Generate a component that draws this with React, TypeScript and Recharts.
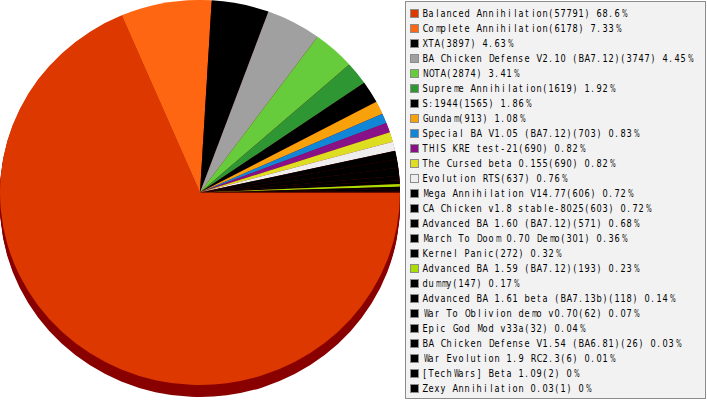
import React from "react";
import { PieChart, Pie, Cell } from "recharts";

const names = [
  "Balanced Annihilation",
  "Complete Annihilation",
  "XTA",
  "BA Chicken Defense V2.10 (BA7.12)",
  "NOTA",
  "Supreme Annihilation",
  "S:1944",
  "Gundam",
  "Special BA V1.05 (BA7.12)",
  "THIS KRE test-21",
  "The Cursed beta 0.155",
  "Evolution RTS",
  "Mega Annihilation V14.77",
  "CA Chicken v1.8 stable-8025",
  "Advanced BA 1.60 (BA7.12)",
  "March To Doom 0.70 Demo",
  "Kernel Panic",
  "Advanced BA 1.59 (BA7.12)",
  "dummy",
  "Advanced BA 1.61 beta (BA7.13b)",
  "War To Oblivion demo v0.70",
  "Epic God Mod v33a",
  "BA Chicken Defense V1.54 (BA6.81)",
  "War Evolution 1.9 RC2.3",
  "[TechWars] Beta 1.09",
  "Zexy Annihilation 0.03",
];

const values = [
  57791, 6178, 3897, 3747, 2874, 1619, 1565, 913, 703, 690, 690, 637, 606, 603,
  571, 301, 272, 193, 147, 118, 62, 32, 26, 6, 2, 1,
];

const pctLabels = [
  "68.6%", "7.33%", "4.63%", "4.45%", "3.41%", "1.92%", "1.86%", "1.08%",
  "0.83%", "0.82%", "0.82%", "0.76%", "0.72%", "0.72%", "0.68%", "0.36%",
  "0.32%", "0.23%", "0.17%", "0.14%", "0.07%", "0.04%", "0.03%", "0.01%",
  "0%", "0%",
];

const colors = [
  "#dc3800", "#ff6611", "#000000", "#a0a0a0", "#66cc3c", "#2e9632",
  "#000000", "#f8a10a", "#1185d6", "#881188", "#dddd22", "#eeeeee",
  "#000000", "#000000", "#000000", "#000000", "#000000", "#aadd00",
  "#000000", "#000000", "#000000", "#000000", "#000000", "#000000",
  "#000000", "#000000",
];

const shadowColor = "#880000";
const shadowDepths = [1, 2, 3, 4, 5, 6, 7, 8, 9, 10, 11, 12.5];

const data = names.map((n, i) => ({ name: n, value: values[i] }));

// approximate advance widths (px at 10px DejaVu Sans) of the wider glyphs
const wideGlyphs: Record<string, number> = {
  m: 9.8, M: 8.7, W: 9.9, w: 8.2, "%": 9.5, N: 7.5, O: 7.9, D: 7.7,
  G: 7.8, Q: 7.9, U: 7.4, H: 7.6, C: 7.0, A: 6.9, V: 6.9, B: 6.9,
  X: 6.9, Z: 6.9, R: 7.0, K: 6.6, T: 6.2, E: 6.4, S: 6.4, P: 6.1,
  Y: 6.2, L: 5.6, F: 5.8, "[": 4, "]": 4,
};

function MonoText({ text }: { text: string }) {
  return (
    <span style={{ display: "inline-flex", height: 15, alignItems: "center" }}>
      {Array.from(text).map((ch, k) => {
        const w = wideGlyphs[ch] ?? 6.3;
        const s = Math.min(0.82, 5.7 / w);
        return (
          <span
            key={k}
            style={{
              display: "inline-block",
              width: 6,
              textAlign: "center",
              whiteSpace: "pre",
            }}
          >
            <span style={{ display: "inline-block", transform: `scaleX(${s})` }}>{ch}</span>
          </span>
        );
      })}
    </span>
  );
}

export default function App() {
  return (
    <div
      style={{
        position: "absolute",
        left: 0,
        top: 0,
        width: 707,
        height: 400,
        background: "#ffffff",
        overflow: "hidden",
      }}
    >
      <div
        style={{
          position: "absolute",
          left: 0,
          top: 0,
          width: 401,
          height: 414,
          transform: "scaleY(0.9625)",
          transformOrigin: "top left",
        }}
      >
        <PieChart width={401} height={414} margin={{ top: 0, right: 0, bottom: 0, left: 0 }}>
          {shadowDepths.map((d) => (
            <Pie
              key={"s" + d}
              data={data}
              dataKey="value"
              cx={200}
              cy={200 + d}
              outerRadius={200}
              startAngle={0}
              endAngle={-360}
              stroke="none"
              isAnimationActive={false}
            >
              {data.map((_, i) => (
                <Cell key={i} fill={shadowColor} />
              ))}
            </Pie>
          ))}
          <Pie
            data={data}
            dataKey="value"
            cx={200}
            cy={200}
            outerRadius={200}
            startAngle={0}
            endAngle={-360}
            stroke="none"
            isAnimationActive={false}
          >
            {data.map((_, i) => (
              <Cell key={i} fill={colors[i]} />
            ))}
          </Pie>
        </PieChart>
      </div>
      <div
        style={{
          position: "absolute",
          left: 405,
          top: 1,
          width: 299,
          height: 396,
          border: "1px solid #8c8c8c",
          background: "#f2f2f2",
          fontFamily: "'DejaVu Sans', sans-serif",
          fontSize: 10,
          color: "#000",
        }}
      >
        {names.map((n, i) => (
          <div
            key={i}
            style={{
              position: "absolute",
              left: 4,
              top: 4 + i * 15,
              height: 15,
              display: "flex",
              alignItems: "center",
              whiteSpace: "pre",
            }}
          >
            <div
              style={{
                width: 7,
                height: 7,
                border: "1px solid #8c8c8c",
                background: colors[i],
                marginRight: 3,
                flexShrink: 0,
              }}
            />
            <MonoText text={`${n}(${values[i]}) ${pctLabels[i]}`} />
          </div>
        ))}
      </div>
    </div>
  );
}
